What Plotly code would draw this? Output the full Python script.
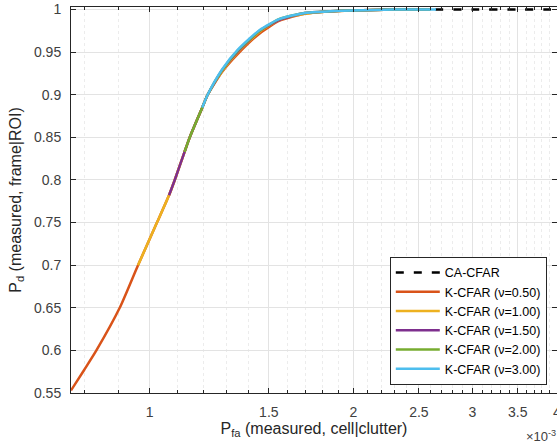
import numpy as np
import plotly.graph_objects as go

# P_fa values are in units of 1e-3 (scaled when plotted)
SCALE = 1e-3

ca_pfa = [2.2, 2.6, 3.0, 3.5, 4.0]
ca_pd = [1.0, 1.0, 1.0, 1.0, 1.0]

k05_pfa = [0.765, 0.80, 0.834, 0.903, 0.961, 1.025, 1.068, 1.089, 1.126, 1.146, 1.196, 1.218,
           1.28, 1.35, 1.454, 1.556, 1.694, 1.85, 1.99, 2.3, 2.6]
k05_pd = [0.553, 0.577, 0.60, 0.65, 0.70, 0.75, 0.782, 0.80, 0.833, 0.85, 0.885, 0.90,
          0.927, 0.948, 0.972, 0.987, 0.995, 0.998, 0.999, 1.0, 1.0]

k10_pfa = [0.961, 1.025, 1.068, 1.089, 1.126, 1.146, 1.196, 1.218, 1.28, 1.35, 1.454, 1.556,
           1.694, 1.85, 1.99, 2.3, 2.6]
k10_pd = [0.70, 0.75, 0.782, 0.80, 0.833, 0.85, 0.885, 0.90, 0.928, 0.950, 0.974, 0.988,
          0.995, 0.998, 0.999, 1.0, 1.0]

k15_pfa = [1.068, 1.089, 1.126, 1.146, 1.196, 1.218, 1.28, 1.35, 1.454, 1.556, 1.694, 1.85,
           1.99, 2.3, 2.6]
k15_pd = [0.782, 0.80, 0.833, 0.85, 0.885, 0.90, 0.929, 0.951, 0.975, 0.988, 0.996, 0.998,
          0.999, 1.0, 1.0]

k20_pfa = [1.126, 1.146, 1.196, 1.218, 1.28, 1.35, 1.454, 1.556, 1.694, 1.85, 1.99, 2.3, 2.6]
k20_pd = [0.833, 0.85, 0.885, 0.90, 0.929, 0.952, 0.975, 0.989, 0.996, 0.998, 0.999, 1.0, 1.0]

k30_pfa = [1.196, 1.218, 1.28, 1.35, 1.454, 1.556, 1.694, 1.85, 1.99, 2.3, 2.65]
k30_pd = [0.885, 0.90, 0.930, 0.953, 0.976, 0.989, 0.996, 0.998, 0.999, 1.0, 1.0]

major_ticks = [1, 1.5, 2, 2.5, 3, 3.5, 4]
minor_ticks = [0.8, 0.9, 1.1, 1.2, 1.3, 1.4, 1.6, 1.7, 1.8, 1.9, 2.1, 2.2, 2.3, 2.4,
               2.6, 2.7, 2.8, 2.9, 3.1, 3.2, 3.3, 3.4, 3.6, 3.7, 3.8, 3.9]
y_ticks = [0.55, 0.6, 0.65, 0.7, 0.75, 0.8, 0.85, 0.9, 0.95, 1]

series = [
    ("CA-CFAR", ca_pfa, ca_pd, "black", "dash"),
    ("K-CFAR (ν=0.50)", k05_pfa, k05_pd, "#D95319", "solid"),
    ("K-CFAR (ν=1.00)", k10_pfa, k10_pd, "#EDB120", "solid"),
    ("K-CFAR (ν=1.50)", k15_pfa, k15_pd, "#7E2F8E", "solid"),
    ("K-CFAR (ν=2.00)", k20_pfa, k20_pd, "#77AC30", "solid"),
    ("K-CFAR (ν=3.00)", k30_pfa, k30_pd, "#4DBEEE", "solid"),
]

FONT = "Liberation Sans, Arial, sans-serif"
AX = "#262626"

fig = go.Figure()
for name, xs, ys, color, dash in series:
    fig.add_trace(go.Scatter(
        x=np.array(xs) * SCALE, y=ys, mode="lines", name=name,
        line=dict(color=color, width=2.5, dash="8px,10px" if dash == "dash" else dash,
                  shape="spline", smoothing=0.6),
    ))

fig.update_layout(
    width=557, height=445,
    margin=dict(l=71, r=0, t=7, b=52),
    paper_bgcolor="white", plot_bgcolor="white",
    font=dict(family=FONT, color=AX, size=14),
    legend=dict(
        x=0.979, y=0.021, xanchor="right", yanchor="bottom",
        bgcolor="white", bordercolor=AX, borderwidth=1,
        font=dict(size=12.5, color="black"), itemwidth=44,
        tracegroupgap=0,
    ),
    showlegend=True,
)

fig.update_xaxes(
    type="log", automargin=False,
    range=[np.log10(0.765e-3), np.log10(4e-3)],
    tickvals=[t * SCALE for t in major_ticks],
    ticktext=[f"{t:g}" for t in major_ticks],
    ticks="inside", ticklen=5, tickcolor=AX,
    showline=True, linecolor=AX, linewidth=1, mirror="ticks",
    showgrid=True, gridcolor="#e3e3e3", gridwidth=1,
    zeroline=False, ticklabelstandoff=6, ticklabeloverflow="allow",
    tickfont=dict(size=14, color="#404040"),
    minor=dict(tickvals=[t * SCALE for t in minor_ticks], ticks="inside", ticklen=3,
               tickcolor=AX, showgrid=True, gridcolor="#ececec", griddash="dot"),
    title=dict(text="P<sub>fa</sub> (measured, cell|clutter)", font=dict(size=16, color=AX),
               standoff=2),
)

# a little headroom above 1 so the lines at P_d = 1 are not cut in half
fig.update_yaxes(
    automargin=False,
    range=[0.55, 1.003],
    tickvals=y_ticks,
    ticktext=[f"{t:g}" for t in y_ticks],
    ticks="inside", ticklen=5, tickcolor=AX,
    showline=True, linecolor=AX, linewidth=1, mirror="ticks",
    showgrid=True, gridcolor="#e3e3e3", gridwidth=1,
    zeroline=False, ticklabelstandoff=6, ticklabeloverflow="allow",
    tickfont=dict(size=14, color="#404040"),
    title=dict(text="P<sub>d</sub> (measured, frame|ROI)", font=dict(size=16, color=AX),
               standoff=8),
)

fig.add_annotation(
    text="×10<sup>-3</sup>", xref="paper", yref="paper",
    x=0.932, y=-0.112, xanchor="left", yanchor="middle",
    showarrow=False, font=dict(size=13, color="#404040"),
)

# drop the browser's default 8px body margin so the figure fills the window
fig.write_html("out.html", config={"displayModeBar": False},
               post_script="document.body.style.margin = '0';")
